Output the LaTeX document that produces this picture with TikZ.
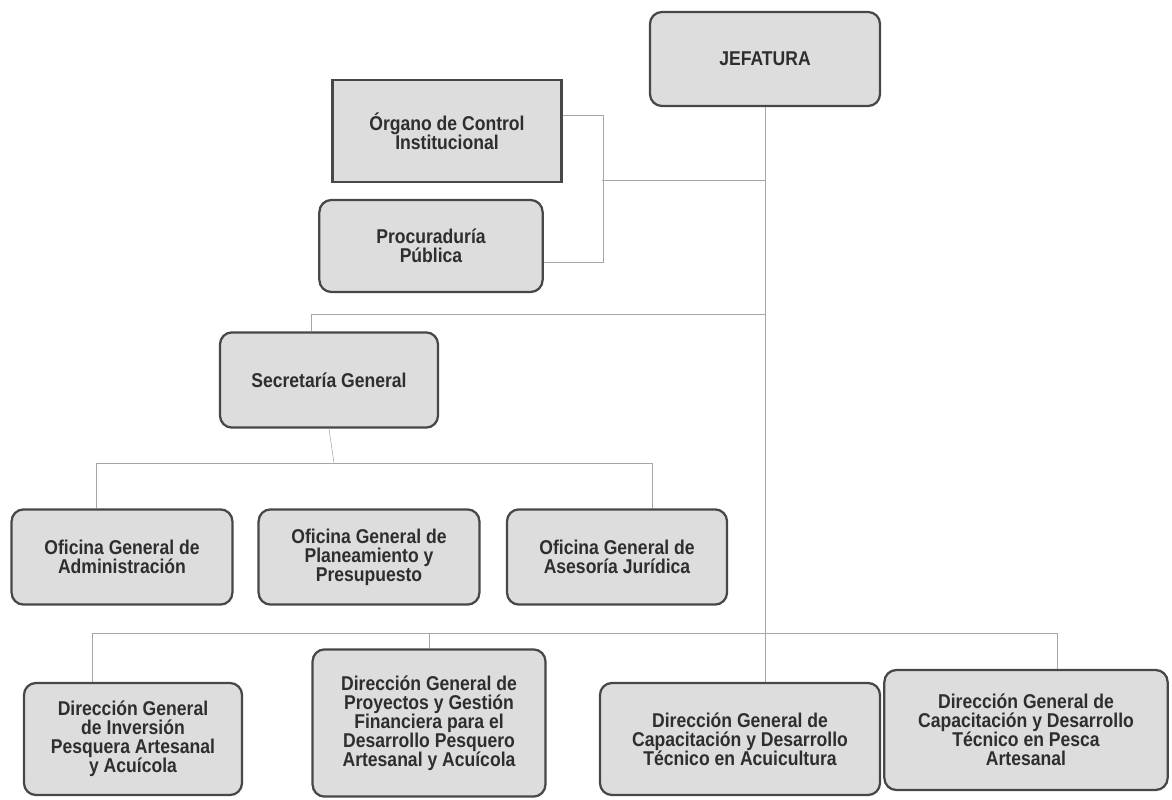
\documentclass[tikz,border=0pt]{standalone}
\usepackage{fontspec}
\setmainfont{Liberation Sans}[FakeStretch=0.88]
\begin{document}
\begin{tikzpicture}[
  x=0.025cm, y=-0.025cm,
  unit/.style={draw=black!72, line width=1.6pt, fill=gray!27, rounded corners=0.3cm,
    align=center, inner sep=2pt, text=black!82,
    font=\bfseries\fontsize{14.2}{13.6}\selectfont},
  sharpunit/.style={unit, rounded corners=0pt},
  link/.style={draw=gray!70, thin},
]
\useasboundingbox (0,0) rectangle (1172,800);

% Top level
\node[unit, minimum width=5.75cm, minimum height=2.35cm] (jef) at (765,59) {JEFATURA};

% Control and legal offices
\node[sharpunit, minimum width=5.72cm, minimum height=2.55cm] (oci) at (447,131) {Órgano de Control\\Institucional};
\node[unit, minimum width=5.58cm, minimum height=2.3cm] (proc) at (431,246) {Procuraduría\\Pública};

% Secretaria and its offices
\node[unit, minimum width=5.45cm, minimum height=2.38cm] (sec) at (329,380) {Secretaría General};
\node[unit, minimum width=5.52cm, minimum height=2.38cm] (oga) at (122,557) {Oficina General de\\Administración};
\node[unit, minimum width=5.52cm, minimum height=2.38cm] (ogpp) at (369,557) {Oficina General de\\Planeamiento y\\Presupuesto};
\node[unit, minimum width=5.5cm, minimum height=2.38cm] (ogaj) at (617,557) {Oficina General de\\Asesoría Jurídica};

% Line directorates
\node[unit, minimum width=5.45cm, minimum height=2.8cm] (dgi) at (133,739) {Dirección General\\de Inversión\\Pesquera Artesanal\\y Acuícola};
\node[unit, minimum width=5.82cm, minimum height=3.68cm] (dgp) at (429,723) {Dirección General de\\Proyectos y Gestión\\Financiera para el\\Desarrollo Pesquero\\Artesanal y Acuícola};
\node[unit, minimum width=7.0cm, minimum height=2.8cm] (dga) at (740,739) {Dirección General de\\Capacitación y Desarrollo\\Técnico en Acuicultura};
\node[unit, minimum width=7.08cm, minimum height=3.0cm] (dgpa) at (1026,730) {Dirección General de\\Capacitación y Desarrollo\\Técnico en Pesca\\Artesanal};

% Branch points
\coordinate (ocib) at (602,180);
\coordinate (secb) at (311,314);
\coordinate (secbus) at (334,463);
\coordinate (busl) at (96,463);
\coordinate (busr) at (652,463);
\coordinate (dbl) at (92,633);
\coordinate (dbr) at (1057,633);

% Trunk
\draw[link] (jef.south) -- (jef.south |- dga.north);

% Control and legal links
\draw[link] ([yshift=0.4cm]oci.east) -| ([yshift=-0.4cm, xshift=1.48cm]proc.east) -- ([yshift=-0.4cm]proc.east);
\draw[link] (jef.south |- ocib) -- (ocib);

% Secretaria links
\draw[link] (jef.south |- secb) -- (secb) -- (secb |- sec.north);
\draw[link] (sec.south) -- (secbus);
\draw[link] (busl |- oga.north) -- (busl) -- (busr) -- (busr |- ogaj.north);

% Directorate links
\draw[link] (dbl |- dgi.north) -- (dbl) -- (dbr) -- (dbr |- dgpa.north);
\draw[link] (dgp.north |- dbl) -- (dgp.north);
\end{tikzpicture}
\end{document}
